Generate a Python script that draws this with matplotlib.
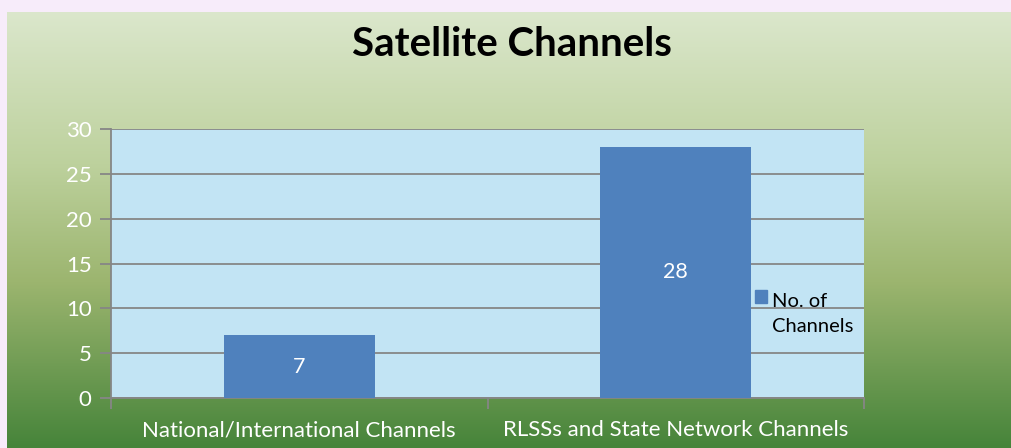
import matplotlib.pyplot as plt
import numpy as np
from matplotlib.colors import LinearSegmentedColormap
from matplotlib.patches import Patch, Rectangle
from matplotlib.legend_handler import HandlerPatch

categories = ["National/International Channels", "RLSSs and State Network Channels"]
values = [7, 28]
series_name = "No. of Channels"
title = "Satellite Channels"

plt.rcParams['font.family'] = ['Lato', 'DejaVu Sans']

W, H = 1012, 448
fig = plt.figure(figsize=(W / 100, H / 100), dpi=100, facecolor="#F7ECFA")

# gradient background of the chart area
bg = fig.add_axes([7 / W, 0, 1 - 7 / W, (H - 12) / H], zorder=0)
cmap = LinearSegmentedColormap.from_list(
    "g", [(0, "#DBE7CC"), (0.35, "#BDD19D"), (0.62, "#9CB56F"), (1, "#46843A")])
grad = np.linspace(0, 1, 256).reshape(-1, 1)
bg.imshow(grad, aspect="auto", cmap=cmap, extent=[0, 1, 0, 1], origin="upper")
bg.axis("off")

ax = fig.add_axes([111 / W, (H - 398) / H, (864 - 111) / W, (398 - 129) / H], zorder=1)
ax.set_facecolor("#C2E4F4")

x = np.arange(len(categories))
bars = ax.bar(x, values, width=0.4, color="#4F81BD", zorder=3)
for b, v in zip(bars, values):
    ax.text(b.get_x() + b.get_width() / 2, v / 2, str(v), ha="center", va="center",
            color="white", fontsize=15.5, zorder=4)

ax.set_xlim(-0.5, 1.5)
ax.set_ylim(0, 30)
ax.set_yticks(range(0, 31, 5))
ax.set_xticks(x)
ax.set_xticklabels(categories, color="white", fontsize=16)
ax.tick_params(axis="x", length=0, pad=16)
ax.set_xticks([-0.5, 0.5, 1.5], minor=True)
ax.tick_params(axis="x", which="minor", length=8, color="#868686", width=1.3)
ax.tick_params(axis="y", colors="white", labelsize=16, length=8, width=1.3, pad=6)
ax.tick_params(axis="y", color="#868686")
ax.yaxis.grid(True, color="#868686", linewidth=1.3, zorder=1)
for s in ["top", "right"]:
    ax.spines[s].set_visible(False)
for s in ["left", "bottom"]:
    ax.spines[s].set_color("#868686")
    ax.spines[s].set_linewidth(1.3)


# legend square sits next to the first line of the label, like the original
def top_square(legend, orig_handle, xdescent, ydescent, width, height, fontsize):
    return Rectangle((-xdescent, -ydescent + 0.85 * fontsize), width, height)


leg = ax.legend([Patch(color="#4F81BD")], ["No. of\nChannels"], loc="upper left",
                bbox_to_anchor=((747 - 111) / (864 - 111), (398 - 285) / (398 - 129)),
                frameon=False, fontsize=14.5, handlelength=0.6, handleheight=0.6,
                handletextpad=0.25, borderaxespad=0,
                handler_map={Patch: HandlerPatch(patch_func=top_square)})
for t in leg.get_texts():
    t.set_color("black")
    t.set_linespacing(1.55)

fig.text(512 / W, 1 - 45 / H, title, ha="center", va="center", fontsize=29,
         fontweight="bold", color="black")

fig.savefig("out.png", dpi=100, facecolor=fig.get_facecolor())
